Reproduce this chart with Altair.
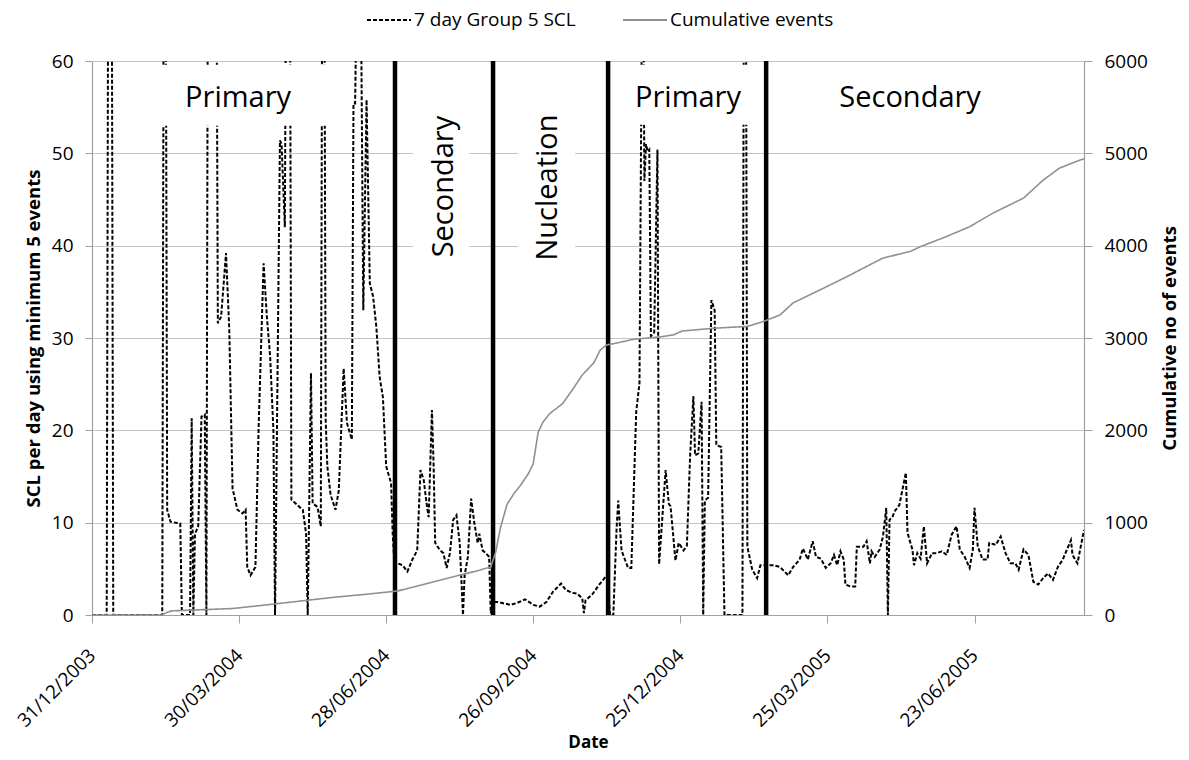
import altair as alt
import pandas as pd

BASE = pd.Timestamp("2003-12-31")

# ---- 7 day Group 5 SCL (days after 31/12/2003) ; values above 60 run off the top of the plot
scl_days = [0, 9, 10, 12, 13, 43, 44, 45, 46, 48, 54, 55, 60, 61, 62, 63, 65, 67, 69, 70,
            71, 72, 73, 74, 75, 76, 77, 79, 82, 84, 86, 89, 92, 94, 95, 97, 100, 102, 105, 107,
            109, 111, 112, 115, 116, 118, 119, 120, 121, 122, 127, 129, 131, 132, 134, 135, 138, 140, 141, 142,
            143, 144, 146, 149, 151, 154, 156, 159, 160, 161, 163, 164, 166, 168, 170, 172, 174, 176, 178, 180,
            183, 184,
            185, 187, 190, 193, 196, 199, 201, 203, 205, 206, 208, 209, 210, 213, 215, 217, 219, 221, 223, 225,
            227, 228, 230, 232, 234, 236, 237, 239, 241, 243, 244,
            246, 248, 251, 256, 260, 265, 270, 274, 278, 282, 287, 290, 294, 297, 300, 301, 302, 306, 310, 315,
            317, 319, 321, 322, 324, 328, 330, 333, 335, 337, 338, 339, 340, 341, 342, 344, 346, 347, 351, 353,
            354, 357, 359, 362, 364, 366, 368, 369, 371, 373, 374, 375, 377, 379, 381, 382, 385, 387, 398, 399,
            400, 401, 404, 407, 409, 413,
            417, 421, 426, 429, 433, 435, 438, 441, 443, 446, 449, 452, 454, 456, 458, 460, 461, 464, 467, 468,
            472, 474, 476, 477, 479, 482, 484, 486, 487, 488, 490, 491, 494, 498, 499, 502, 503, 505, 507, 509,
            511, 514, 517, 520, 523, 526, 529, 531, 534, 537, 539, 540, 542, 545, 548, 549, 553, 556, 559, 562,
            565, 567, 570, 573, 576, 579, 582, 585, 588, 591, 594, 599, 600, 603, 607]
scl_vals = [0, 0, 80, 80, 0, 0, 80, 80, 11.4, 10.1, 9.9, 0, 0, 21.3, 0, 8.8, 9.6, 21.5, 21.7, 0,
            80, 80, 80, 80, 80, 80, 31.6, 32.3, 39.2, 30.9, 13.7, 11.4, 11, 11.4, 5.2, 4.3, 5.2, 20.6, 38.1, 32.3,
            28, 20, 0, 51.4, 51, 42, 80, 80, 80, 12.5, 11.7, 11.4, 8.8, 0, 26.2, 12.1, 11.7, 9.6, 80, 80,
            21, 16.1, 13, 11.4, 13.5, 26.7, 20.8, 19, 55.4, 55.4, 80, 80, 33, 55.8, 35.9, 34.5, 31.2, 25.8, 23.6, 16.1,
            14.3, 8.8,
            5.6, 5.6, 5.4, 4.7, 6, 7, 15.7, 14.6, 11.7, 10.6, 22.2, 16.4, 7.8, 7, 6.7, 5.1, 6.7, 10.3, 10.8, 7.8,
            0, 4.3, 6.3, 12.6, 9.9, 7.8, 8.8, 7, 6.7, 6.3, 0.2,
            1.4, 1.4, 1.3, 1.1, 1.3, 1.7, 1.1, 0.9, 1.4, 2.5, 3.4, 2.7, 2.4, 2.3, 1.8, 0.2, 1.6, 2.2, 3.2, 4.3,
            0, 0, 9.4, 12.4, 7, 5.1, 5.1, 22, 25.1, 80, 47, 51, 50.2, 50.4, 30.2, 30.6, 50.4, 5.5, 15.7, 12,
            11.8, 5.9, 7.8, 7, 7.5, 17.3, 23.7, 17.3, 17.5, 23.1, 0, 12.4, 12.7, 34.1, 33, 18.4, 18.2, 0, 0, 80,
            80, 7.4, 4.9, 4, 5.4, 5.4,
            5.4, 5.2, 4.3, 5.2, 6, 7.2, 6, 8, 6.3, 6.1, 5.1, 5.6, 6.5, 5.4, 6.9, 6, 3.3, 3.1, 3.1, 7.4,
            7.4, 8, 5.6, 6.9, 6.3, 7.1, 8.5, 11.6, 0, 10.3, 10.7, 11.2, 11.9, 15.4, 8.9, 7.1, 5.4, 6.7, 6.1, 9.6,
            5.6, 6.7, 6.7, 6.9, 6.5, 8.7, 9.6, 7.1, 6.3, 5.1, 7.1, 11.6, 7.4, 6, 6, 7.8, 7.6, 8.5, 6.7, 5.6,
            5.6, 4.9, 7.1, 6.5, 3.6, 3.3, 4, 4.5, 3.8, 5.2, 6, 8.1, 6.5, 5.6, 9.2]

# ---- Cumulative events
cum_days = [0, 43, 46, 49, 86, 107, 127, 147, 168, 187, 196, 217, 237, 244, 247, 250, 254, 258, 262, 267,
            270, 273, 276, 280, 288, 294, 300, 307, 311, 315, 321, 331, 340, 349, 356, 361, 370, 380, 390, 401,
            411, 421, 429, 450, 462, 480, 484, 501, 507, 523, 537, 551, 570, 582, 592, 605, 607]
cum_vals = [0, 0, 30, 45, 70, 110, 150, 190, 225, 260, 300, 395, 485, 520, 680, 950, 1200, 1310, 1400, 1530,
            1640, 1980, 2090, 2180, 2290, 2440, 2600, 2730, 2870, 2925, 2945, 2985, 3000, 3015, 3035, 3075, 3090, 3105, 3115, 3125,
            3180, 3250, 3380, 3560, 3665, 3830, 3865, 3940, 3990, 4100, 4205, 4350, 4515, 4710, 4840, 4930, 4940]

# ---- phase boundaries and labels
phase_days = [185.4, 245.4, 315.8, 412.5]
label_text = ["Primary", "Secondary", "Nucleation", "Primary", "Secondary"]
label_days = [89.4, 215.4, 279.0, 364.7, 500.6]
label_y = [55.0, 46.4, 46.3, 55.0, 55.0]
label_rot = [False, True, True, False, False]

# white label boxes (hide grid / line behind the phase labels)
box_d1 = [40.4, 196.5, 260.7, 325.0]
box_d2 = [145.7, 230.7, 295.6, 403.7]
box_y1 = [53.0, 37.4, 37.4, 53.1]
box_y2 = [59.6, 55.3, 55.3, 59.6]

SERIES = ["7 day Group 5 SCL", "Cumulative events"]


def to_date(days):
    return [BASE + pd.Timedelta(days=float(d)) for d in days]


scl_df = pd.DataFrame({"date": to_date(scl_days), "v": scl_vals, "series": SERIES[0]})
cum_df = pd.DataFrame({"date": to_date(cum_days), "c": cum_vals, "series": SERIES[1]})
phase_df = pd.DataFrame({"date": to_date(phase_days)})
lab_df = pd.DataFrame({"date": to_date(label_days), "v": label_y, "text": label_text, "rot": label_rot})
box_df = pd.DataFrame({"date": to_date(box_d1), "date2": to_date(box_d2), "v": box_y1, "v2": box_y2})

FONT = "Open Sans"
LEFT_TITLE = "SCL per day using minimum 5 events"

tick_dates = [alt.DateTime(year=2003, month=12, date=31), alt.DateTime(year=2004, month=3, date=30),
              alt.DateTime(year=2004, month=6, date=28), alt.DateTime(year=2004, month=9, date=26),
              alt.DateTime(year=2004, month=12, date=25), alt.DateTime(year=2005, month=3, date=25),
              alt.DateTime(year=2005, month=6, date=23)]

xscale = alt.Scale(domain=[alt.DateTime(year=2003, month=12, date=31),
                           alt.DateTime(year=2005, month=8, date=29)], nice=False)
xaxis = alt.Axis(values=tick_dates, format="%d/%m/%Y", labelAngle=-45, labelAlign="right",
                 labelBaseline="middle", labelPadding=29, labelOffset=0, tickSize=8,
                 title="Date", grid=False, titlePadding=4, titleFontSize=17)
X = alt.X("date:T", scale=xscale, axis=xaxis)

yscale = alt.Scale(domain=[0, 60], nice=False)
yaxis = alt.Axis(values=list(range(0, 61, 10)), title=LEFT_TITLE, grid=True, tickSize=7,
                 labelPadding=12, titlePadding=8, titleFontSize=18.5)

legend_spec = alt.Legend(title=None, orient="none", legendX=274, legendY=-64, direction="horizontal",
                         labelLimit=400)
color = alt.Color("series:N", scale=alt.Scale(domain=SERIES, range=["#000000", "#909090"]),
                  legend=legend_spec)
dash = alt.StrokeDash("series:N", scale=alt.Scale(domain=SERIES, range=[[4, 2], [1, 0]]),
                      legend=legend_spec)

scl_line = alt.Chart(scl_df).mark_line(strokeWidth=2, clip=True).encode(
    x=X, y=alt.Y("v:Q", scale=yscale, axis=yaxis), color=color, strokeDash=dash)

boxes = alt.Chart(box_df).mark_rect(color="white").encode(
    x=X, x2="date2:T", y=alt.Y("v:Q", scale=yscale, axis=yaxis), y2="v2:Q")

rules = alt.Chart(phase_df).mark_rule(color="black", strokeWidth=4.5).encode(x=X)

texts_h = alt.Chart(lab_df).transform_filter("!datum.rot").mark_text(
    font=FONT, fontSize=29, color="black", baseline="alphabetic", align="center").encode(
    x=X, y=alt.Y("v:Q", scale=yscale, axis=yaxis), text="text:N")

texts_v = alt.Chart(lab_df).transform_filter("datum.rot").mark_text(
    font=FONT, fontSize=29, color="black", baseline="middle", align="center", angle=270).encode(
    x=X, y=alt.Y("v:Q", scale=yscale, axis=yaxis), text="text:N")

left = alt.layer(scl_line, boxes, rules, texts_h, texts_v)

cum_line = alt.Chart(cum_df).mark_line(strokeWidth=1.6).encode(
    x=X,
    y=alt.Y("c:Q", scale=alt.Scale(domain=[0, 6000], nice=False),
            axis=alt.Axis(orient="right", values=list(range(0, 6001, 1000)), format="d", grid=False,
                          title="Cumulative no of events", titleAngle=270, titleBaseline="top",
                          tickSize=8, labelPadding=12, titlePadding=13, titleFontSize=18.5)),
    color=color, strokeDash=dash)

chart = alt.layer(left, cum_line).resolve_scale(y="independent").properties(
    width=992, height=554,
    autosize=alt.AutoSizeParams(type="none"),
    padding={"left": 92, "top": 61, "right": 105, "bottom": 145},
).configure_view(stroke=None).configure_axis(
    labelFont=FONT, titleFont=FONT, labelFontSize=19, labelColor="#000000",
    titleFontWeight="bold", titleColor="#000000",
    domainColor="#a0a0a0", tickColor="#a0a0a0", gridColor="#c4c4c4",
    domainWidth=1.2, gridWidth=1.2,
).configure_legend(
    labelFont=FONT, labelFontSize=19, labelColor="#000000", symbolType="stroke",
    symbolSize=1936, symbolStrokeWidth=2, labelOffset=2, columnPadding=43, labelLimit=400,
)

chart.save("out.html", embed_options={"renderer": "svg", "actions": False})
